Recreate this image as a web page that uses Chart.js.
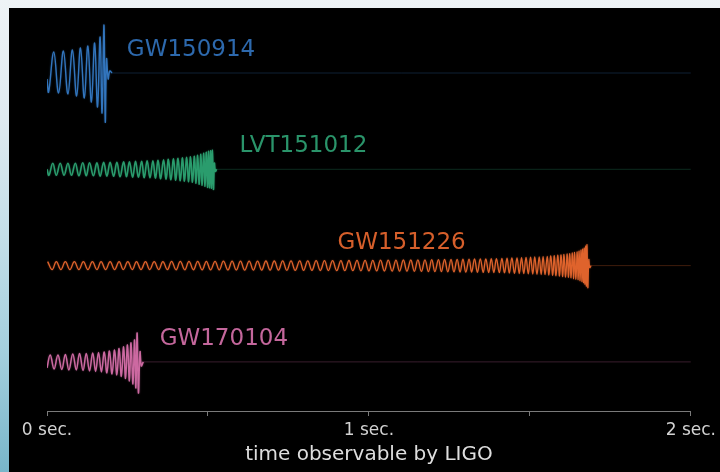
<!DOCTYPE html>
<html>
<head>
<meta charset="utf-8">
<script src="https://cdn.jsdelivr.net/npm/chart.js@4.4.1/dist/chart.umd.min.js"></script>
<style>
  html, body { margin: 0; padding: 0; }
  body {
    width: 720px; height: 472px; overflow: hidden; position: relative;
    background: linear-gradient(to bottom, #eef3f6 0%, #dfeaf0 25%, #c3dee8 50%, #a3cfdd 75%, #78b6ca 100%);
  }
  #panel { position: absolute; left: 9px; top: 8px; width: 711px; height: 464px; background: #000; }
  #chart { position: absolute; left: 0; top: 0; }
</style>
</head>
<body>
<div id="panel"></div>
<canvas id="chart" width="720" height="472"></canvas>
<script>
// Events and their colours
const eventNames = ['GW150914', 'LVT151012', 'GW151226', 'GW170104'];
const eventColors = ['#3275bd', '#2a9c6d', '#df632c', '#cc69a1'];
const nameColors = ['#2d69ad', '#2a946a', '#d65f2b', '#c4679c'];
const tickLabels = ['0 sec.', '1 sec.', '2 sec.'];
const axisTitle = 'time observable by LIGO';
const windowEnd = 2000; // ms

// Waveform crests and troughs: [time in ms, whitened strain (arb. units)]
const gw150914 = [
  [0,-6],[5,-19],[21,21],[36,-20],[51,22],[65,-21],[79,23],[92,-23],[104,25],[116,-25],
  [127,27],[138,-29],[148,30],[157,-34],[165,36],[171,-40],[177,48],[181,-49],[185,14],[190,-6],
  [195,2],[202,0]
];
const lvt151012 = [
  [0,0],[6,-6],[18,6],[29,-6],[41,6],[53,-6],[65,6],[76,-6],[88,6],[99,-6.5],
  [111,6.5],[122,-6.5],[132,6.5],[144,-6.5],[155,6.5],[165,-7],[176,7],[186,-7],[196,7],[207,-7],
  [217,7],[227,-7.5],[238,7.5],[247,-7.5],[256,7.5],[266,-8],[275,8],[284,-8],[294,8],[302,-8.5],
  [311,8.5],[320,-8.5],[329,8.5],[337,-9],[345,9],[353,-9.5],[362,9.5],[370,-10],[377,10],[385,-10.5],
  [393,10.5],[400,-11],[407,11],[414,-11.5],[421,11.5],[427,-12],[434,12],[440,-12.5],[446,12.5],[452,-13],
  [458,13],[463,-14],[468,14],[473,-15],[478,15],[482,-16],[487,16],[491,-17],[495,17],[499,-18],
  [502,18],[505,-18.5],[508.5,18.5],[511,-19],[514,19],[517,-20],[520,6],[523,-2],[527,0]
];
const gw151226 = [
  [2,4],[16,-4],[29,4],[43,-4],[57,4],[71,-4],[85,4],[99,-4],[113,4],[127,-4],
  [141,4],[155,-4],[168,4],[182,-4],[196,4],[210,-4],[224,4],[237,-4],[251,4],[265,-4],
  [278,4],[292,-4],[306,4],[319,-4],[333,4],[347,-4],[360,4],[374,-4],[387,4.2],[401,-4.2],
  [414,4.2],[428,-4.2],[441,4.2],[455,-4.2],[468,4.3],[482,-4.3],[495,4.3],[508,-4.3],[522,4.3],[535,-4.3],
  [548,4.4],[562,-4.4],[575,4.4],[588,-4.4],[601,4.4],[614,-4.5],[628,4.5],[641,-4.5],[654,4.5],[667,-4.5],
  [680,4.6],[693,-4.6],[706,4.6],[719,-4.6],[732,4.7],[745,-4.7],[758,4.7],[771,-4.7],[785,4.8],[797,-4.8],
  [810,4.8],[823,-4.8],[836,4.9],[849,-4.9],[862,4.9],[874,-5],[887,5],[900,-5],[913,5],[925,-5.1],
  [938,5.1],[950,-5.1],[963,5.2],[975,-5.2],[988,5.2],[1000,-5.3],[1012,5.3],[1024,-5.3],[1036,5.4],[1048,-5.4],
  [1060,5.4],[1072,-5.5],[1084,5.5],[1095,-5.5],[1107,5.6],[1118,-5.6],[1130,5.6],[1141,-5.7],[1152,5.7],[1163,-5.8],
  [1174,5.8],[1185,-5.9],[1195,5.9],[1205,-6],[1216,6],[1225,-6.1],[1235,6.1],[1245,-6.2],[1255,6.2],[1264,-6.3],
  [1274,6.3],[1283,-6.4],[1292,6.4],[1301,-6.5],[1311,6.5],[1319,-6.6],[1328,6.6],[1337,-6.7],[1346,6.7],[1355,-6.8],
  [1363,6.8],[1372,-6.9],[1380,6.9],[1388,-7],[1396,7],[1405,-7.1],[1413,7.2],[1421,-7.3],[1429,7.4],[1436,-7.5],
  [1444,7.6],[1452,-7.7],[1460,7.8],[1467,-7.9],[1474,8],[1481,-8.1],[1488,8.2],[1495,-8.3],[1502,8.4],[1509,-8.5],
  [1515,8.6],[1522,-8.7],[1529,8.8],[1535,-8.9],[1541,9],[1547,-9.1],[1554,9.2],[1559,-9.4],[1565,9.6],[1571,-9.8],
  [1576,10],[1581,-10.2],[1587,10.4],[1592,-10.6],[1597,10.8],[1602,-11],[1606,11.2],[1611,-11.4],[1616,11.6],[1620,-11.8],
  [1624,12],[1628,-12.3],[1632,12.6],[1636,-12.9],[1639,13.2],[1643,-13.5],[1647,13.8],[1650,-14.1],[1653,14.5],[1656,-15],
  [1659,15.5],[1662,-16],[1664,16.5],[1667,-17],[1669,17.5],[1671,-18.5],[1673.5,19.5],[1675.5,-20.5],[1677.5,21],[1680,-22],
  [1683,6],[1686,-2],[1690,0]
];
const gw170104 = [
  [0,-6],[10,7],[22,-7],[34,7],[46,-7.5],[57,7.5],[68,-8],[80,8],[91,-8],[101,8.5],
  [112,-8.5],[122,8.5],[132,-9],[142,9],[151,-9.5],[160,9.5],[169,-10],[178,10],[186,-11],[194,11],
  [202,-12],[210,12],[217,-13],[224,13.5],[231,-14.5],[238,15],[244,-16.5],[250,17],[256,-19],[261,19],
  [267,-22],[272,22],[276,-26],[280,29],[284,-31],[289,10],[293,-4],[299,0]
];
const waveforms = [gw150914, lvt151012, gw151226, gw170104];

// Layout: each event sits on its own row; names are placed above the row
const ROW = 96.3;
const LABEL_LIFT = 17;
const labelTimes = [248, 598, 902, 350];
const strokeWidths = [1.4, 1.6, 1.3, 1.5];

function withAlpha(hex, a) {
  const n = parseInt(hex.slice(1), 16);
  return `rgba(${(n >> 16) & 255},${(n >> 8) & 255},${n & 255},${a})`;
}

const datasets = [];
waveforms.forEach((w, i) => {
  const base = -i * ROW;
  datasets.push({
    data: w.map(([t, h]) => ({ x: t, y: base + h })),
    borderColor: eventColors[i],
    borderWidth: strokeWidths[i],
    pointRadius: 0,
    tension: 0.4,
    fill: false,
    glow: eventColors[i]
  });
  const last = w[w.length - 1][0];
  datasets.push({
    data: [{ x: last, y: base }, { x: windowEnd, y: base }],
    borderColor: withAlpha(eventColors[i], 0.28),
    borderWidth: 1,
    pointRadius: 0,
    fill: false
  });
});

// faint glow around the waveform strokes
const strokeGlow = {
  id: 'strokeGlow',
  beforeDatasetDraw(chart, args) {
    const ds = chart.data.datasets[args.index];
    if (!ds.glow) return;
    chart.ctx.save();
    chart.ctx.shadowColor = withAlpha(ds.glow, 0.45);
    chart.ctx.shadowBlur = 2;
  },
  afterDatasetDraw(chart, args) {
    const ds = chart.data.datasets[args.index];
    if (!ds.glow) return;
    chart.ctx.restore();
  }
};

const eventLabels = {
  id: 'eventLabels',
  afterDatasetsDraw(chart) {
    const { ctx, scales: { x, y } } = chart;
    ctx.save();
    ctx.font = '23px "DejaVu Sans"';
    ctx.textAlign = 'left';
    ctx.textBaseline = 'alphabetic';
    eventNames.forEach((name, i) => {
      ctx.fillStyle = nameColors[i];
      ctx.fillText(name, x.getPixelForValue(labelTimes[i]), y.getPixelForValue(-i * ROW) - LABEL_LIFT);
    });
    ctx.restore();
  }
};

new Chart(document.getElementById('chart'), {
  type: 'line',
  data: { datasets },
  plugins: [strokeGlow, eventLabels],
  options: {
    responsive: false,
    animation: false,
    events: [],
    layout: { padding: { left: 47, right: 28, top: 8, bottom: 0 } },
    plugins: { legend: { display: false }, tooltip: { enabled: false } },
    scales: {
      x: {
        type: 'linear',
        min: 0,
        max: windowEnd,
        afterFit(scale) { scale.height = 61; },
        border: { display: true, color: '#7a7a7a', width: 1 },
        grid: { drawOnChartArea: false, drawTicks: true, tickLength: 5, tickColor: '#7a7a7a', tickWidth: 1 },
        ticks: {
          stepSize: 500,
          autoSkip: false,
          maxRotation: 0,
          padding: 4,
          color: '#d2d2d2',
          font: { family: 'DejaVu Sans', size: 17 },
          callback: (v) => (v % 1000 === 0 ? tickLabels[v / 1000] : '')
        },
        title: {
          display: true,
          text: axisTitle,
          color: '#dedede',
          font: { family: 'DejaVu Sans', size: 20 },
          padding: { top: 0, bottom: 5 }
        }
      },
      y: { type: 'linear', display: false, min: -338, max: 65 }
    }
  }
});
</script>
</body>
</html>
